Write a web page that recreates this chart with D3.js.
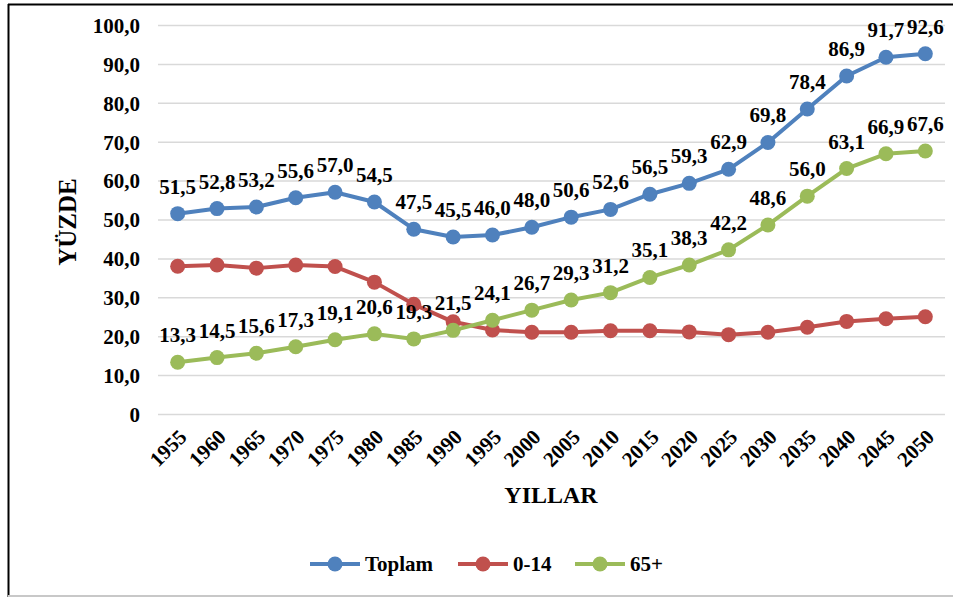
<!DOCTYPE html>
<html>
<head>
<meta charset="utf-8">
<script src="https://cdn.jsdelivr.net/npm/d3@7"></script>
<style>
body { margin: 0; background: #fff; }
svg text { font-family: "Liberation Serif", "Times New Roman", serif; font-weight: bold; fill: #000; }
</style>
</head>
<body>
<svg id="chart" width="953" height="597"></svg>
<script>
var years = ["1955","1960","1965","1970","1975","1980","1985","1990","1995","2000",
             "2005","2010","2015","2020","2025","2030","2035","2040","2045","2050"];
var toplam = [51.5,52.8,53.2,55.6,57.0,54.5,47.5,45.5,46.0,48.0,50.6,52.6,56.5,59.3,62.9,69.8,78.4,86.9,91.7,92.6];
var yas014 = [38.0,38.3,37.5,38.3,37.9,33.9,28.2,23.7,21.6,21.0,21.0,21.4,21.4,21.1,20.4,21.0,22.3,23.8,24.5,25.0];
var yas65  = [13.3,14.5,15.6,17.3,19.1,20.6,19.3,21.5,24.1,26.7,29.3,31.2,35.1,38.3,42.2,48.6,56.0,63.1,66.9,67.6];
var yTicks = [0,10,20,30,40,50,60,70,80,90,100];

var series = [
  {name: "Toplam", values: toplam, color: "#4f81bd", labels: true},
  {name: "0-14",   values: yas014, color: "#c0504d", labels: false},
  {name: "65+",    values: yas65,  color: "#9bbb59", labels: true}
];

var svg = d3.select("#chart");
var plotL = 158, plotR = 945, plotT = 25, plotB = 414;

// cerceve
svg.append("line").attr("x1",8.5).attr("x2",8.5).attr("y1",4).attr("y2",597).attr("stroke","#000").attr("stroke-width",2);
svg.append("line").attr("x1",8).attr("x2",953).attr("y1",4.5).attr("y2",4.5).attr("stroke","#000").attr("stroke-width",2);
svg.append("line").attr("x1",8).attr("x2",953).attr("y1",596).attr("y2",596).attr("stroke","#c8c8c8").attr("stroke-width",2);

var x = d3.scaleBand().domain(years).range([plotL, plotR]);
var y = d3.scaleLinear().domain([0,100]).range([plotB, plotT]);

function fmt(v){ return v === 0 ? "0" : d3.format(".1f")(v).replace(".", ","); }

// grid + y axis
var yAxis = d3.axisLeft(y).tickValues(yTicks).tickSize(-(plotR-plotL)).tickPadding(18).tickFormat(fmt);
var gy = svg.append("g").attr("transform","translate(" + plotL + ",0)").call(yAxis);
gy.select(".domain").remove();
gy.selectAll(".tick line").attr("stroke","#d9d9d9").attr("stroke-width",1.5);
gy.selectAll(".tick text").style("font-size","21px").attr("dy","0.35em");

// x axis
var xAxis = d3.axisBottom(x).tickSize(0).tickPadding(0);
var gx = svg.append("g").attr("transform","translate(0," + plotB + ")").call(xAxis);
gx.select(".domain").remove();
gx.selectAll(".tick text")
  .style("font-size","21px")
  .attr("text-anchor","end")
  .attr("dy","0.35em")
  .attr("transform","translate(5,19) rotate(-45)");

// lines
var line = d3.line().x(function(d,i){ return x(years[i]) + x.bandwidth()/2; }).y(function(d){ return y(d); });

series.forEach(function(s){
  var g = svg.append("g");
  g.append("path").datum(s.values).attr("d", line)
    .attr("fill","none").attr("stroke", s.color).attr("stroke-width",4).attr("stroke-linejoin","round");
  g.selectAll("circle").data(s.values).enter().append("circle")
    .attr("cx", function(d,i){ return x(years[i]) + x.bandwidth()/2; })
    .attr("cy", function(d){ return y(d); })
    .attr("r", 7.5).attr("fill", s.color);
  if (s.labels) {
    g.selectAll("text").data(s.values).enter().append("text")
      .attr("x", function(d,i){ return x(years[i]) + x.bandwidth()/2; })
      .attr("y", function(d){ return y(d) - 20; })
      .attr("text-anchor","middle")
      .style("font-size","21px")
      .text(fmt);
  }
});

// axis titles
svg.append("text").attr("transform","translate(76,222) rotate(-90)").attr("text-anchor","middle")
  .style("font-size","25px").text("YÜZDE");
svg.append("text").attr("x",551).attr("y",503).attr("text-anchor","middle")
  .style("font-size","24px").text("YILLAR");

// legend
var legX = [310, 458, 575];
series.forEach(function(s,i){
  var lg = svg.append("g").attr("transform","translate(" + legX[i] + ",564)");
  lg.append("line").attr("x1",0).attr("x2",50).attr("stroke", s.color).attr("stroke-width",4);
  lg.append("circle").attr("cx",25).attr("r",7.5).attr("fill", s.color);
  lg.append("text").attr("x",55).attr("dy","0.35em").style("font-size","21px").text(s.name);
});
</script>
</body>
</html>
